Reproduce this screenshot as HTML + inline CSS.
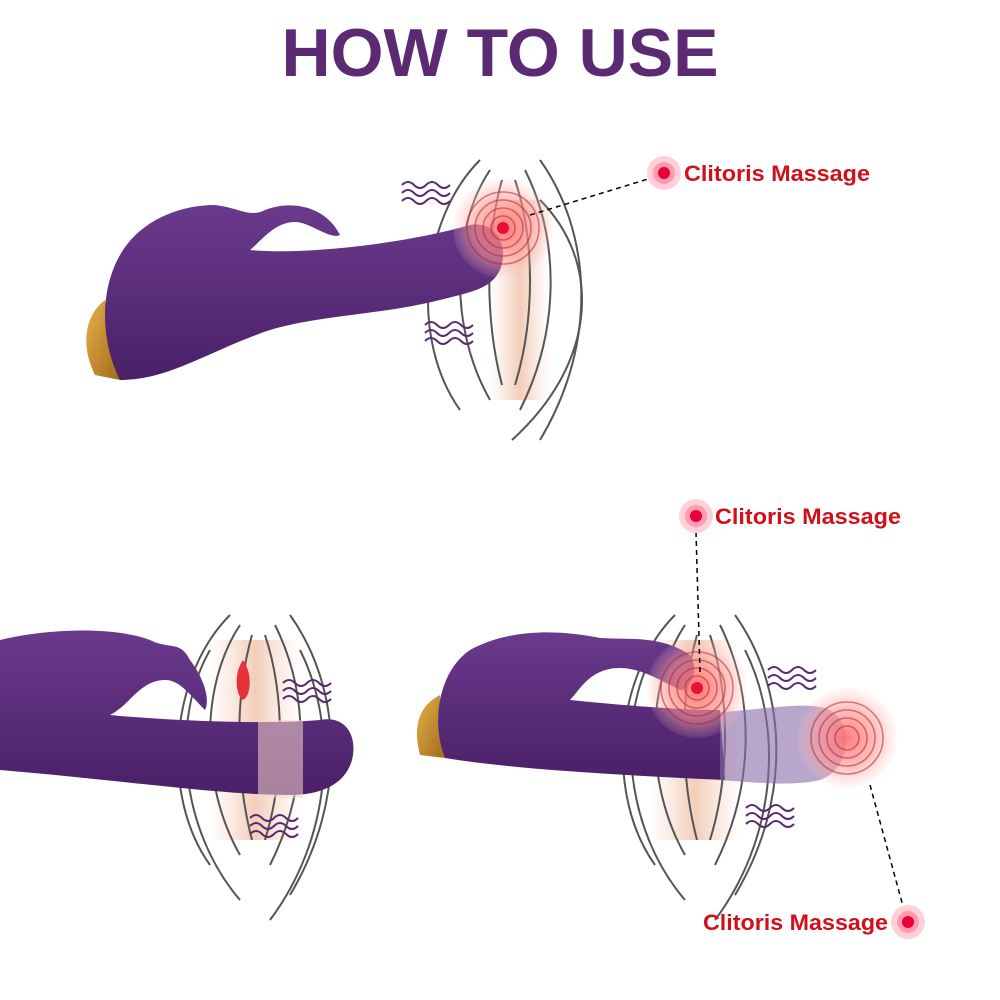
<!DOCTYPE html>
<html><head><meta charset="utf-8"><style>
html,body{margin:0;padding:0;background:#fff;width:1000px;height:1000px;overflow:hidden}
svg{display:block}
</style></head><body>
<svg width="1000" height="1000" viewBox="0 0 1000 1000" xmlns="http://www.w3.org/2000/svg">
<defs>
<radialGradient id="glow"><stop offset="0" stop-color="#ff6b6b" stop-opacity=".9"/><stop offset=".6" stop-color="#ff9a9a" stop-opacity=".6"/><stop offset="1" stop-color="#ffc0c0" stop-opacity=".1"/></radialGradient>
<linearGradient id="pur" x1="0" y1="0" x2="0" y2="1"><stop offset="0" stop-color="#6a3a8c"/><stop offset="1" stop-color="#4a2068"/></linearGradient>
<linearGradient id="gold" x1="0" y1="0" x2="1" y2="1"><stop offset="0" stop-color="#e8b04a"/><stop offset="1" stop-color="#a06a1a"/></linearGradient>
<linearGradient id="skin" x1="0" y1="0" x2="1" y2="0"><stop offset="0" stop-color="#f6d8c8" stop-opacity="0"/><stop offset=".5" stop-color="#f3cdb8"/><stop offset="1" stop-color="#f6d8c8" stop-opacity="0"/></linearGradient>
<g id="waves" fill="none" stroke="#5a2a70" stroke-width="2">
<path d="M0 0q6-6 12 0t12 0t12 0t12 0"/><path d="M0 8q6-6 12 0t12 0t12 0t12 0"/><path d="M0 16q6-6 12 0t12 0t12 0t12 0"/>
</g>
<g id="vul" fill="none" stroke="#555" stroke-width="2">
<path d="M0 0 C-60 60 -70 180 -20 250"/><path d="M60 0 C110 70 120 180 60 280"/>
<path d="M10 10 C-30 70 -30 170 10 240"/><path d="M45 10 C80 80 80 170 40 250"/>
<path d="M22 20 C5 80 5 160 22 225"/><path d="M35 20 C55 80 55 160 35 225"/>
</g>
<g id="ring">
<circle r="50" fill="url(#glow)"/>
<g fill="none" stroke="#b22" stroke-opacity=".55" stroke-width="1.6"><circle r="12"/><circle r="20"/><circle r="28"/><circle r="36"/></g>
</g>
<g id="bull"><circle r="17" fill="#ffd0d8"/><circle r="11" fill="#ff9ab0"/><circle r="6" fill="#e8003a"/></g>
</defs>

<text x="500" y="76" text-anchor="middle" font-family="Liberation Sans, sans-serif" font-weight="bold" font-size="68" fill="#5b2a72">HOW TO USE</text>

<!-- TOP -->
<rect x="490" y="200" width="60" height="200" fill="url(#skin)"/>
<use href="#vul" x="480" y="160"/>
<path d="M540 200 C600 260 600 360 512 440" fill="none" stroke="#555" stroke-width="2"/>
<path d="M120 380 L95 375 C80 345 85 315 105 300 Z" fill="url(#gold)"/>
<path d="M120 380 C100 340 100 290 120 255 C140 220 180 205 215 205 C240 208 250 218 265 210 C290 200 325 205 340 235 C330 240 310 222 295 222 C275 222 262 240 250 250 C300 255 400 245 470 225 C495 220 510 245 500 270 C490 290 470 292 440 300 C380 315 320 315 270 330 C210 350 170 380 120 380 Z" fill="url(#pur)"/>
<use href="#ring" x="503" y="228"/>
<circle cx="503" cy="228" r="6" fill="#e8103a"/>
<use href="#waves" x="402" y="185"/>
<use href="#waves" x="425" y="325"/>
<line x1="530" y1="215" x2="658" y2="176" stroke="#000" stroke-width="1.5" stroke-dasharray="5,4"/>
<use href="#bull" x="664" y="173"/>
<text x="684" y="181" textLength="186" lengthAdjust="spacingAndGlyphs" font-family="Liberation Sans, sans-serif" font-weight="bold" font-size="22" fill="#d0101a">Clitoris Massage</text>

<!-- BOTTOM LEFT -->
<rect x="210" y="640" width="90" height="200" fill="url(#skin)"/>
<use href="#vul" x="230" y="615"/>
<path d="M210 650 C170 720 180 830 240 900" fill="none" stroke="#555" stroke-width="2"/>
<path d="M300 650 C340 730 330 840 270 920" fill="none" stroke="#555" stroke-width="2"/>
<path d="M243 660 C252 672 252 695 243 700 C235 695 234 672 243 660Z" fill="#e8303a"/>
<path d="M0 640 C40 630 110 625 150 640 C170 650 180 640 190 660 C205 680 210 700 205 710 C190 695 180 680 165 680 C140 680 130 705 110 715 C160 720 260 725 320 720 C345 715 358 735 352 760 C345 785 320 795 290 795 C220 795 120 780 0 770 Z" fill="url(#pur)"/>
<rect x="258" y="720" width="45" height="78" fill="#f5d6cc" opacity=".55"/>
<use href="#waves" x="283" y="683"/>
<use href="#waves" x="250" y="818"/>

<!-- BOTTOM RIGHT -->
<rect x="650" y="640" width="90" height="200" fill="url(#skin)"/>
<use href="#vul" x="675" y="615"/>
<path d="M655 650 C615 720 625 830 685 900" fill="none" stroke="#555" stroke-width="2"/>
<path d="M745 650 C785 730 775 840 715 920" fill="none" stroke="#555" stroke-width="2"/>
<path d="M445 758 L420 755 C412 725 420 705 440 695 Z" fill="url(#gold)"/>
<path d="M445 758 C430 720 440 670 470 650 C510 628 560 630 600 638 C630 640 660 635 690 655 C700 670 690 690 680 690 C660 680 640 668 620 668 C590 668 580 690 570 700 C620 705 680 710 720 710 L725 780 C620 775 520 770 445 758 Z" fill="url(#pur)"/>
<path d="M720 712 C760 710 810 700 830 710 C855 725 850 770 820 780 C790 787 750 782 720 780 Z" fill="#8a6aa8" opacity=".6"/>
<use href="#ring" x="697" y="688"/>
<circle cx="697" cy="688" r="6" fill="#e8103a"/>
<use href="#ring" x="847" y="738"/>
<use href="#waves" x="768" y="670"/>
<use href="#waves" x="746" y="808"/>
<line x1="696" y1="532" x2="700" y2="672" stroke="#000" stroke-width="1.5" stroke-dasharray="5,4"/>
<use href="#bull" x="696" y="516"/>
<text x="715" y="524" textLength="186" lengthAdjust="spacingAndGlyphs" font-family="Liberation Sans, sans-serif" font-weight="bold" font-size="22" fill="#d0101a">Clitoris Massage</text>
<line x1="870" y1="785" x2="904" y2="910" stroke="#000" stroke-width="1.5" stroke-dasharray="5,4"/>
<use href="#bull" x="908" y="922"/>
<text x="703" y="930" textLength="185" lengthAdjust="spacingAndGlyphs" font-family="Liberation Sans, sans-serif" font-weight="bold" font-size="22" fill="#d0101a">Clitoris Massage</text>
</svg>
</body></html>
